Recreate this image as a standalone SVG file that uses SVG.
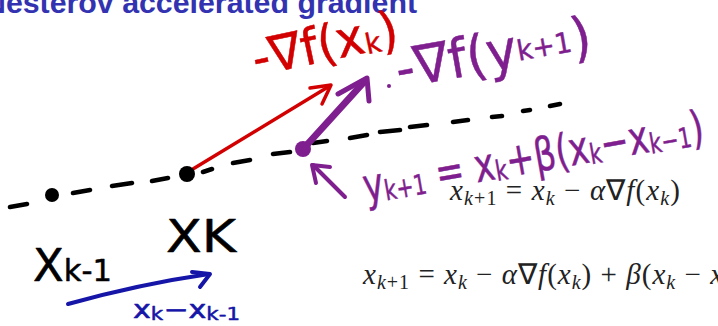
<svg xmlns="http://www.w3.org/2000/svg" width="718" height="326" viewBox="0 0 718 326">
<style>
.title{font-family:"Liberation Sans",Arial,sans-serif;font-weight:bold;font-size:30px;fill:#3333b2}
.hw{font-family:"DejaVu Sans","Liberation Sans",sans-serif;font-weight:normal;stroke-width:0.5;stroke-linejoin:round}
.red{fill:#d20000;stroke:#d20000}
.pur{fill:#7f1f8f;stroke:#7f1f8f}
.blk{fill:#000;stroke:#000}
.blu{fill:#1515a8;stroke:#1515a8}
.math{font-family:"Liberation Serif","Times New Roman",serif;font-size:29px;fill:#222}
.it{font-style:italic}
.sub{font-size:20px}
.dash{stroke:#000;stroke-width:4.5;stroke-linecap:round;fill:none}
.sr{stroke:#d20000;stroke-width:3.5;stroke-linecap:round;stroke-linejoin:round;fill:none}
.sp{stroke:#7f1f8f;stroke-linecap:round;stroke-linejoin:round;fill:none}
.sb{stroke:#1515a8;stroke-width:4;stroke-linecap:round;stroke-linejoin:round;fill:none}
</style>
<rect width="718" height="326" fill="#fff"/>
<text class="title" x="-16" y="13" textLength="433" lengthAdjust="spacingAndGlyphs">Nesterov accelerated gradient</text>

<g id="path-line">
<path class="dash" d="M10,207 L27,204 M73,193 L90,190 M112,186 L132,183 M152,181 L168,178 M203,172 L212,169 M233,163 L250,160 M273,154 L290,152 M313,143 L327,141 M350,138 L367,135 M380,132 L400,130 M410,127 L427,125 M453,122 L468,120 M492,117 L502,116 M523,111 L530,110 M550,106 L560,104"/>
</g>

<g id="connectors">
<g id="grad-xk">
<path class="sr" d="M188,172 L328,87"/>
<path class="sr" d="M310,88 L331,85 L322,104"/>
</g>
<g id="grad-yk">
<path class="sp" stroke-width="7" d="M305,147 L364,82"/>
<path class="sp" stroke-width="5" d="M338,94 L367,78 L369,101"/>
</g>
<g id="ptr-yk">
<path class="sp" stroke-width="4" d="M345,197 L313,165"/>
<path class="sp" stroke-width="4" d="M316,183 L312,165 L330,167"/>
</g>
<g id="momentum">
<path class="sb" d="M68,304 Q140,284 209,274"/>
<path class="sb" d="M192,272 L210,274 L200,287"/>
</g>
</g>

<g id="node-xk1">
<circle cx="52" cy="195" r="7" fill="#000"/>
<text class="hw blk" x="33" y="281" font-size="44" textLength="79" lengthAdjust="spacingAndGlyphs">X<tspan font-size="30">k-1</tspan></text>
</g>

<g id="node-xk">
<circle cx="187" cy="174" r="8" fill="#000"/>
<text class="hw blk" x="166" y="252" font-size="44" textLength="70" lengthAdjust="spacingAndGlyphs">XK</text>
</g>

<g id="node-yk1">
<circle cx="303" cy="149" r="8" fill="#7f1f8f"/>
<text class="hw pur" transform="translate(366,202) rotate(-10)" font-size="46" textLength="345" lengthAdjust="spacingAndGlyphs">y<tspan font-size="28" dy="2">k+1</tspan><tspan dy="-2"> = x</tspan><tspan font-size="28" dy="2">k</tspan><tspan dy="-2">+β(x</tspan><tspan font-size="28" dy="2">k</tspan><tspan dy="-2">−x</tspan><tspan font-size="28" dy="2">k−1</tspan><tspan dy="-2">)</tspan></text>
</g>

<g id="label-grad-xk">
<text class="hw red" transform="translate(256,76) rotate(-12)" font-size="50" textLength="148" lengthAdjust="spacingAndGlyphs">-∇f(x<tspan font-size="28" dy="2">k</tspan><tspan dy="-2">)</tspan></text>
</g>

<g id="label-grad-yk">
<circle cx="389" cy="86" r="2" fill="#7f1f8f"/>
<text class="hw pur" transform="translate(399,88) rotate(-10)" font-size="54" textLength="198" lengthAdjust="spacingAndGlyphs">-∇f(y<tspan font-size="28" dy="-6">k+1</tspan><tspan dy="6">)</tspan></text>
</g>

<g id="label-momentum">
<text class="hw blu" x="133" y="318" font-size="24" textLength="107" lengthAdjust="spacingAndGlyphs">x<tspan font-size="17" dy="2">k</tspan><tspan dy="-2">−x</tspan><tspan font-size="17" dy="2">k-1</tspan></text>
</g>

<g id="formula-gd">
<text class="math" x="450" y="200" textLength="230" lengthAdjust="spacing"><tspan class="it">x</tspan><tspan class="sub" dy="5"><tspan class="it">k</tspan>+1</tspan><tspan dy="-5"> = </tspan><tspan class="it">x</tspan><tspan class="sub it" dy="5">k</tspan><tspan dy="-5"> − </tspan><tspan class="it">α</tspan>∇<tspan class="it">f</tspan>(<tspan class="it">x</tspan><tspan class="sub it" dy="5">k</tspan><tspan dy="-5">)</tspan></text>
</g>

<g id="formula-momentum">
<text class="math" x="363" y="284" textLength="360" lengthAdjust="spacing"><tspan class="it">x</tspan><tspan class="sub" dy="5"><tspan class="it">k</tspan>+1</tspan><tspan dy="-5"> = </tspan><tspan class="it">x</tspan><tspan class="sub it" dy="5">k</tspan><tspan dy="-5"> − </tspan><tspan class="it">α</tspan>∇<tspan class="it">f</tspan>(<tspan class="it">x</tspan><tspan class="sub it" dy="5">k</tspan><tspan dy="-5">) + </tspan><tspan class="it">β</tspan>(<tspan class="it">x</tspan><tspan class="sub it" dy="5">k</tspan><tspan dy="-5"> − </tspan><tspan class="it">x</tspan></text>
</g>
</svg>
